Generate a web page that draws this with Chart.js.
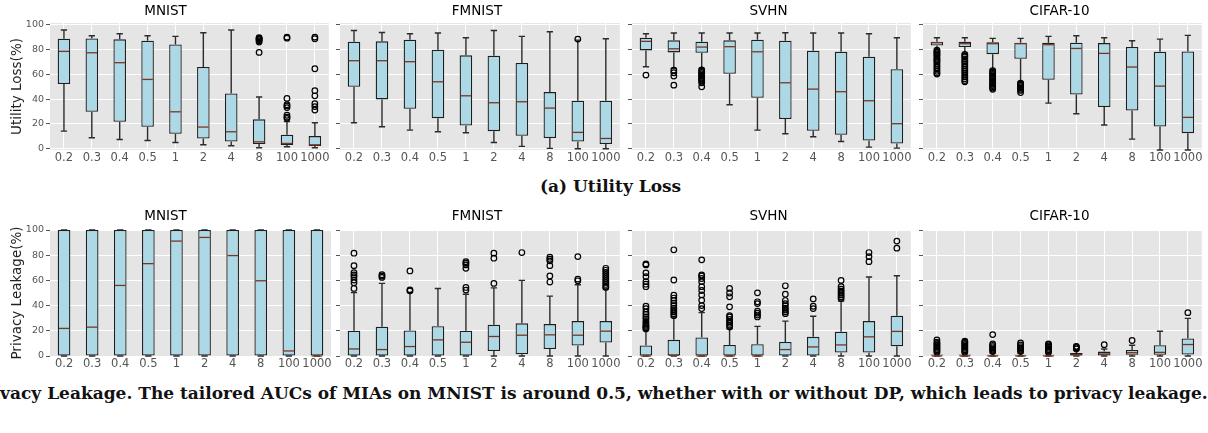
<!DOCTYPE html>
<html>
<head>
<meta charset="utf-8">
<script src="https://cdn.jsdelivr.net/npm/chart.js@4.4.0/dist/chart.umd.min.js"></script>
<style>
body { margin:0; background:#fff; width:1208px; height:433px; position:relative; overflow:hidden; }
canvas { position:absolute; }
.cap { position:absolute; white-space:nowrap; font-family:'DejaVu Serif', serif; font-weight:bold; font-size:17px; color:#111; line-height:20px; }
</style>
</head>
<body>
<div id="capA" class="cap" style="top:176px;">(a) Utility Loss</div>
<div id="capB" class="cap" style="top:383px;"><span id="capHead">(b) Pri</span>vacy Leakage. The tailored AUCs of MIAs on MNIST is around 0.5, whether with or without DP, which leads to privacy leakage.</div>
<script>
var eps = ['0.2', '0.3', '0.4', '0.5', '1', '2', '4', '8', '100', '1000'];
var yTicks = [0, 20, 40, 60, 80, 100];

// ---- (a) utility loss ----
var mnistLossLo  = [14.2, 8.9, 7.5, 6.7, 5.1, 3.2, 2.4, 0.8, 1.6, 0.8];
var mnistLossQ1  = [52.2, 29.8, 21.8, 17.7, 12.1, 8.3, 5.9, 3.8, 3.0, 2.2];
var mnistLossMed = [78.5, 77.4, 69.4, 55.9, 29.8, 17.5, 13.7, 5.6, 4.3, 3.2];
var mnistLossQ3  = [88.7, 89.0, 88.2, 87.1, 84.1, 65.9, 44.6, 23.7, 11.3, 10.2];
var mnistLossHi  = [95.7, 91.1, 92.7, 91.1, 90.6, 93.5, 95.7, 41.7, 22.0, 21.0];
var mnistLossOut = [[], [], [], [], [], [], [],
  [89.5, 89, 88.5, 88, 87, 86, 77.7],
  [90, 89.2, 40.6, 35.5, 34.5, 33.2, 27, 25.5, 24.5],
  [90, 88.7, 64.5, 46.8, 42.7, 36.3, 34, 31.2]];

var fmnistLossLo  = [21, 17.7, 15, 13.7, 12.9, 5.1, 1.9, 0.3, 0, 0];
var fmnistLossQ1  = [50, 39.8, 32.3, 24.7, 18.8, 14.2, 10.5, 8.6, 5.9, 3.8];
var fmnistLossMed = [71, 71, 70.2, 54, 42.7, 37.1, 37.9, 32.8, 13.2, 8.3];
var fmnistLossQ3  = [86.3, 86.6, 87.9, 79.8, 75.3, 75, 69.1, 45.7, 38.7, 38.7];
var fmnistLossHi  = [95.4, 93.8, 92.7, 93.3, 89.5, 95.4, 90.6, 94.4, 87.6, 88.7];
var fmnistLossOut = [[], [], [], [], [], [], [], [], [88.4], []];

var svhnLossLo  = [66.1, 64.8, 64.8, 35.5, 15, 12.1, 9.7, 5.9, 1.3, 0.5];
var svhnLossQ1  = [79.3, 77.7, 77.4, 60.5, 41.1, 23.9, 14.5, 11.3, 6.7, 4.3];
var svhnLossMed = [86.6, 80.6, 82, 82.3, 78.2, 53.2, 48.1, 46, 38.7, 20.2];
var svhnLossQ3  = [89.5, 87.4, 86.3, 87.4, 87.9, 87.1, 79, 78.2, 74.2, 64.2];
var svhnLossHi  = [92.7, 93.3, 93.3, 93.3, 93.3, 93.5, 93.3, 93.3, 92.7, 89.5];
var svhnLossOut = [[59.4], [63.4, 61.3, 58.6, 51.3],
  [63.5, 62.5, 61.5, 60.5, 59.5, 58.5, 57.5, 56.5, 55.5, 54.5, 53.2, 50],
  [], [], [], [], [], [], []];

var cifarLossLo  = [80.1, 76.9, 64, 53.8, 36.8, 28.2, 19.1, 7.8, -1, -1];
var cifarLossQ1  = [83.3, 82, 76.3, 72.6, 55.6, 43.8, 33.6, 30.9, 18, 12.6];
var cifarLossMed = [85.5, 84.7, 84.7, 84.7, 83.9, 80.9, 76.9, 65.9, 50.5, 25.3];
var cifarLossQ3  = [86.3, 86.3, 85.8, 85.5, 85.5, 85.5, 85.2, 82, 78.2, 78.5];
var cifarLossHi  = [89.5, 89.5, 89, 89, 90.6, 91.1, 89.5, 87.1, 88.4, 91.4];
var cifarLossOut = [
  [79.5, 78.5, 77.5, 76.5, 75.5, 74.5, 73, 72, 71, 70, 68.5, 67, 65.5, 64, 62.5, 61, 60.2],
  [76, 75, 74, 72.5, 71, 70, 68.5, 67, 65.5, 64, 62.5, 61, 59.5, 58, 56.5, 55, 54],
  [63, 62, 61, 60, 59, 58, 57, 56, 55, 54, 53, 52, 51, 50, 49, 48],
  [53, 52, 51, 50, 49, 48, 47, 45.3],
  [], [], [], [], [], []];

// ---- (b) privacy leakage ----
var mnistLeakLo  = [0, 0, 0, 0, 0, 0, 0, 0, 0, 0];
var mnistLeakQ1  = [0, 0, 0, 0, 0, 0, 0, 0, 0, 0];
var mnistLeakMed = [21.9, 22.9, 56, 73.3, 91.2, 94.1, 79.7, 59.7, 4, 0];
var mnistLeakQ3  = [100, 100, 100, 100, 100, 100, 100, 100, 100, 100];
var mnistLeakHi  = [100, 100, 100, 100, 100, 100, 100, 100, 100, 100];
var mnistLeakOut = [[], [], [], [], [], [], [], [], [], []];

var fmnistLeakLo  = [0, 0, 0, 0, 0, 0, 0, 0, 0, 0];
var fmnistLeakQ1  = [0, 0, 0, 0, 0, 4, 1.3, 5.6, 8.3, 10.7];
var fmnistLeakMed = [5.6, 5.1, 7.5, 12.8, 10.9, 15.5, 16.5, 16.8, 16.5, 19.7];
var fmnistLeakQ3  = [20, 23.2, 20.3, 23.7, 20, 24.8, 25.9, 25.3, 27.7, 27.7];
var fmnistLeakHi  = [50.4, 57.6, 50.4, 53.6, 49, 54.1, 60, 47.5, 56.5, 53.3];
var fmnistLeakOut = [
  [53.6, 58.1, 60.3, 62.9, 64.3, 66.1, 71.7, 81.6],
  [62.4, 63.4, 64.5],
  [51.7, 52.5, 67.5],
  [],
  [52.3, 54.4, 69.6, 72.3, 73.6, 74.9],
  [57.6, 77.6, 81.6],
  [82.1],
  [58.7, 63.5, 71.7, 75.5, 76.8, 78.4],
  [59.7, 61, 78.9],
  [54.4, 55.2, 56.8, 58.4, 60, 61.6, 63.2, 64.8, 66.4, 68, 69.6]];

var svhnLeakLo  = [0, 0, 0, 0, 0, 0, 0, 0, 0, 0];
var svhnLeakQ1  = [0, 0, 0, 0, 0, 0, 0, 2.7, 2.7, 7.7];
var svhnLeakMed = [0, 0.5, 0, 0, 0, 5.1, 7.2, 8.8, 15.2, 19.5];
var svhnLeakQ3  = [8.3, 12.8, 14.7, 8.8, 9.3, 11.2, 15.2, 19.2, 27.7, 32];
var svhnLeakHi  = [20.3, 30.9, 34.4, 21.6, 23.5, 27.7, 31.5, 43.7, 62.7, 63.7];
var svhnLeakOut = [
  [21.5, 22.5, 23.5, 24.5, 26, 27.5, 29.5, 31, 33, 35, 37.5, 39.5, 55, 57, 59, 63, 66, 72.3, 73.1],
  [32, 33.5, 35, 36.5, 38, 40, 42, 44, 46, 48.3, 60.3, 84.3],
  [37.6, 40, 44.3, 48.5, 52, 55, 59, 61.5, 63.5, 64.3, 76.3],
  [23, 24.5, 26, 27.5, 29, 31, 32, 39, 47, 50, 53.6],
  [31, 32.5, 34, 35.5, 41.6, 43, 50.1],
  [33.6, 35, 36.5, 38, 40, 41.6, 44, 49, 55.7],
  [37.6, 39.5, 45.3],
  [45.6, 47, 48.5, 50, 51.5, 53, 55, 60],
  [74.9, 78.9, 82.1],
  [85.6, 91.2]];

var cifarLeakLo  = [0, 0, 0, 0, 0, 0, 0, 0, 0, 0];
var cifarLeakQ1  = [0, 0, 0, 0, 0, 0, 0.3, 1, 1, 1.1];
var cifarLeakMed = [0, 0, 0, 0, 0, 1, 1.6, 2.7, 2.9, 9.1];
var cifarLeakQ3  = [1.1, 1.1, 1, 1, 1, 2.4, 3.5, 4.8, 8.5, 13.9];
var cifarLeakHi  = [2.5, 2.5, 2.3, 2.3, 2.3, 4.5, 5.6, 8.5, 19.7, 29.9];
var cifarLeakOut = [
  [3, 4, 5, 6, 7, 8, 9, 10, 11, 12.8],
  [3, 4, 5, 6, 7, 8, 9, 10, 11, 11.7],
  [3.5, 4.5, 5.5, 6.5, 7.5, 8.5, 9.6, 17],
  [3.5, 4.5, 5.5, 6.5, 7.5, 8.8, 10.4],
  [3, 4, 5, 6, 7, 8, 9, 9.6],
  [5.6, 6.5, 7.2, 7.7],
  [9],
  [12.3],
  [],
  [34.4]];

Chart.defaults.font.family = "'DejaVu Sans', sans-serif";

// grey panel, whiskers, caps and medians around the floating bars
var boxParts = {
  id: 'boxParts',
  beforeDraw: function(chart) {
    var a = chart.chartArea, ctx = chart.ctx;
    ctx.save();
    ctx.fillStyle = '#e5e5e5';
    ctx.fillRect(a.left, a.top, a.right - a.left, a.bottom - a.top);
    ctx.restore();
  },
  beforeDatasetsDraw: function(chart, args, opts) {
    var ctx = chart.ctx, y = chart.scales.y;
    var bars = chart.getDatasetMeta(1).data;
    ctx.save();
    ctx.strokeStyle = '#2b2b2b';
    ctx.lineWidth = 1.4;
    bars.forEach(function(el, i) {
      var x = el.x, cw = el.width / 4;
      ctx.beginPath();
      ctx.moveTo(x, y.getPixelForValue(opts.lo[i])); ctx.lineTo(x, y.getPixelForValue(opts.q1[i]));
      ctx.moveTo(x, y.getPixelForValue(opts.q3[i])); ctx.lineTo(x, y.getPixelForValue(opts.hi[i]));
      ctx.moveTo(x - cw, y.getPixelForValue(opts.lo[i])); ctx.lineTo(x + cw, y.getPixelForValue(opts.lo[i]));
      ctx.moveTo(x - cw, y.getPixelForValue(opts.hi[i])); ctx.lineTo(x + cw, y.getPixelForValue(opts.hi[i]));
      ctx.stroke();
    });
    ctx.restore();
  },
  afterDatasetsDraw: function(chart, args, opts) {
    var ctx = chart.ctx, y = chart.scales.y;
    var bars = chart.getDatasetMeta(1).data;
    ctx.save();
    ctx.strokeStyle = '#7e3520';
    ctx.lineWidth = 1.3;
    bars.forEach(function(el, i) {
      var py = y.getPixelForValue(opts.med[i]);
      ctx.beginPath();
      ctx.moveTo(el.x - el.width / 2 + 1, py);
      ctx.lineTo(el.x + el.width / 2 - 1, py);
      ctx.stroke();
    });
    ctx.restore();
  }
};

// panel geometry (plot areas in page pixels)
var colLeft = [50, 340, 632, 923];
var colRight = [331, 622, 913, 1204];
var rows = [
  {canvasTop: 0, areaTop: 23, areaBottom: 150, titleY: 11.5, min: -1, max: 101.4, ylabel: 'Utility Loss(%)'},
  {canvasTop: 200, areaTop: 230, areaBottom: 356, titleY: 216.7, min: 0, max: 100, ylabel: 'Privacy Leakage(%)'}
];

var panels = [
  [0, 0, 'MNIST', mnistLossLo, mnistLossQ1, mnistLossMed, mnistLossQ3, mnistLossHi, mnistLossOut],
  [0, 1, 'FMNIST', fmnistLossLo, fmnistLossQ1, fmnistLossMed, fmnistLossQ3, fmnistLossHi, fmnistLossOut],
  [0, 2, 'SVHN', svhnLossLo, svhnLossQ1, svhnLossMed, svhnLossQ3, svhnLossHi, svhnLossOut],
  [0, 3, 'CIFAR-10', cifarLossLo, cifarLossQ1, cifarLossMed, cifarLossQ3, cifarLossHi, cifarLossOut],
  [1, 0, 'MNIST', mnistLeakLo, mnistLeakQ1, mnistLeakMed, mnistLeakQ3, mnistLeakHi, mnistLeakOut],
  [1, 1, 'FMNIST', fmnistLeakLo, fmnistLeakQ1, fmnistLeakMed, fmnistLeakQ3, fmnistLeakHi, fmnistLeakOut],
  [1, 2, 'SVHN', svhnLeakLo, svhnLeakQ1, svhnLeakMed, svhnLeakQ3, svhnLeakHi, svhnLeakOut],
  [1, 3, 'CIFAR-10', cifarLeakLo, cifarLeakQ1, cifarLeakMed, cifarLeakQ3, cifarLeakHi, cifarLeakOut]
];

panels.forEach(function(p) {
  var row = rows[p[0]], col = p[1];
  var first = col === 0;
  var yW = first ? 50 : 8;
  var xH = 20;
  var canvas = document.createElement('canvas');
  canvas.width = colRight[col] - colLeft[col] + yW + 3;
  canvas.height = row.areaBottom - row.canvasTop + xH;
  canvas.style.left = (colLeft[col] - yW) + 'px';
  canvas.style.top = row.canvasTop + 'px';
  document.body.appendChild(canvas);

  var titleLH = 13.5 * 1.2;
  var padTop = row.titleY - row.canvasTop - titleLH / 2;
  var padBottom = (row.areaTop - row.canvasTop) - padTop - titleLH;

  var outliers = [];
  p[8].forEach(function(list, i) {
    list.forEach(function(v) { outliers.push({x: eps[i], y: v}); });
  });

  new Chart(canvas.getContext('2d'), {
    type: 'bar',
    data: {
      labels: eps,
      datasets: [{
        type: 'scatter',
        data: outliers,
        order: 0,
        pointRadius: 2.8,
        pointBorderWidth: 1.2,
        pointBorderColor: '#000',
        pointBackgroundColor: 'rgba(0,0,0,0)',
        clip: false
      }, {
        data: p[4].map(function(v, i) { return [v, p[6][i]]; }),
        order: 1,
        backgroundColor: '#add8e6',
        borderColor: '#1e1e1e',
        borderWidth: 1.3,
        borderSkipped: false,
        barPercentage: 0.45,
        categoryPercentage: 1
      }]
    },
    options: {
      responsive: false,
      animation: false,
      events: [],
      layout: {padding: {left: 0, right: 3, top: 0, bottom: 0}},
      plugins: {
        legend: {display: false},
        tooltip: {enabled: false},
        title: {
          display: true,
          text: p[2],
          color: '#000',
          font: {size: 13.5, weight: 'normal'},
          padding: {top: padTop, bottom: padBottom}
        },
        boxParts: {lo: p[3], q1: p[4], med: p[5], q3: p[6], hi: p[7]}
      },
      scales: {
        x: {
          type: 'category',
          offset: true,
          border: {display: false},
          grid: {color: '#fff', lineWidth: 1, offset: false, drawTicks: true, tickLength: 1.5, tickColor: 'rgba(0,0,0,0)'},
          ticks: {color: '#555', font: {size: 11.5}, padding: 0, maxRotation: 0, minRotation: 0, autoSkip: false},
          afterFit: function(s) { s.height = xH; }
        },
        y: {
          min: row.min,
          max: row.max,
          border: {display: false},
          grid: {color: '#fff', lineWidth: 1, drawTicks: true, tickLength: 4, tickColor: '#555'},
          ticks: {display: first, color: '#555', font: {size: 9.5}, padding: 2},
          afterBuildTicks: function(s) { s.ticks = yTicks.map(function(v) { return {value: v}; }); },
          title: {
            display: first,
            text: row.ylabel,
            color: '#222',
            font: {size: 13.5},
            padding: {top: 9.4, bottom: 0}
          },
          afterFit: function(s) { s.width = yW; }
        }
      }
    },
    plugins: [boxParts]
  });
});

var capA = document.getElementById('capA');
capA.style.left = (610.5 - capA.offsetWidth / 2) + 'px';
var capB = document.getElementById('capB');
capB.style.left = (-document.getElementById('capHead').offsetWidth) + 'px';
</script>
</body>
</html>
